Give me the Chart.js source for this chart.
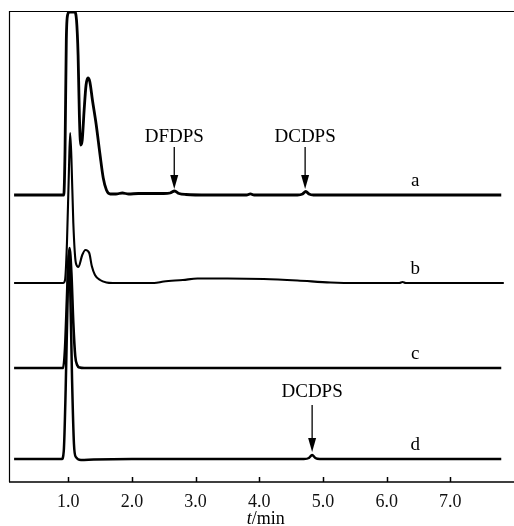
<!DOCTYPE html>
<html>
<head>
<meta charset="utf-8">
<script src="https://cdn.jsdelivr.net/npm/chart.js@4.4.1/dist/chart.umd.min.js"></script>
<style>
  html, body { margin: 0; padding: 0; background: #fff; }
  #wrap { width: 514px; height: 526px; }
</style>
</head>
<body>
<div id="wrap"><canvas id="chromChart" width="514" height="526"></canvas></div>
<script>
// retention time (min) / signal above each trace's own baseline
const timeA = [0.15, 0.93, 0.95, 0.97, 0.99, 1.02, 1.10, 1.13, 1.155, 1.175, 1.195, 1.22, 1.25, 1.28, 1.31, 1.34, 1.38, 1.44, 1.50, 1.55, 1.60, 1.66, 1.75, 1.85, 1.95, 2.1, 2.3, 2.5, 2.6, 2.67, 2.74, 2.85, 3.2, 3.8, 3.86, 3.92, 4.6, 4.68, 4.73, 4.78, 4.85, 7.8];
const signalA = [0, 0, 45, 155, 180, 183, 183, 175, 140, 80, 50, 55, 85, 110, 117, 113, 95, 70, 40, 17, 5, 1, 1, 2, 1, 1.5, 1.5, 1.5, 2, 4, 1.5, 0.5, 0, 0, 1.2, 0, 0, 1, 3.5, 1, 0, 0];

const timeB = [0.15, 0.92, 0.95, 0.98, 1.01, 1.03, 1.05, 1.08, 1.12, 1.16, 1.22, 1.27, 1.33, 1.37, 1.42, 1.5, 1.6, 1.7, 2.35, 2.5, 2.8, 3.03, 3.5, 4.07, 4.6, 5.12, 5.56, 6.2, 6.25, 6.3, 7.84];
const signalB = [0, 0, 3, 40, 110, 150, 125, 60, 20, 16, 28, 33, 30, 17, 8, 3, 0.5, 0, 0, 1.5, 3, 4.5, 4.5, 4, 2.5, 0.5, 0, 0, 1, 0, 0];

const timeC = [0.15, 0.92, 0.95, 0.98, 1.0, 1.02, 1.05, 1.08, 1.11, 1.14, 1.18, 1.25, 7.8];
const signalC = [0, 0, 20, 70, 105, 120, 95, 45, 12, 3, 0.5, 0, 0];

const timeD = [0.15, 0.9, 0.93, 0.96, 0.99, 1.01, 1.03, 1.06, 1.09, 1.12, 1.2, 1.4, 2.0, 4.7, 4.78, 4.83, 4.88, 4.95, 7.8];
const signalD = [0, 0, 8, 70, 160, 205, 175, 80, 15, 2, -1, -0.5, 0, 0, 1, 4, 1, 0, 0];

// vertical offsets of the stacked traces
const traceNames = ["a", "b", "c", "d"];
const traceOffsets = [287, 199, 114, 23];

const xTicks = [1, 2, 3, 4, 5, 6, 7];

// peak annotations
const peakNames = ["DFDPS", "DCDPS", "DCDPS"];
const peakTimes = [2.665, 4.72, 4.83];
const peakTextY = [340, 340, 85];
const peakArrowTop = [335, 335, 77];
const peakArrowTip = [293, 293, 30];

const traceLabelTime = 6.45;
const serif = "'Liberation Serif', 'Times New Roman', serif";

function pts(times, sig, off) {
  return times.map((t, i) => ({ x: t, y: sig[i] + off }));
}

const series = [[timeA, signalA], [timeB, signalB], [timeC, signalC], [timeD, signalD]];
const widths = [2.8, 2.1, 2.6, 2.5];

const datasets = series.map((s, i) => ({
  label: traceNames[i],
  data: pts(s[0], s[1], traceOffsets[i]),
  borderColor: "#000",
  borderWidth: widths[i],
  pointRadius: 0,
  fill: false,
  cubicInterpolationMode: "monotone"
}));

const decor = {
  id: "decor",
  beforeDatasetsDraw(chart) {
    const { ctx, chartArea: ca, scales: { x } } = chart;
    ctx.save();
    ctx.strokeStyle = "#000";
    ctx.lineWidth = 1.2;
    ctx.beginPath();
    ctx.moveTo(ca.left + 0.5, ca.bottom);
    ctx.lineTo(ca.left + 0.5, ca.top + 0.5);
    ctx.lineTo(ca.right, ca.top + 0.5);
    ctx.stroke();
    ctx.lineWidth = 1.5;
    ctx.beginPath();
    ctx.moveTo(ca.left, ca.bottom);
    ctx.lineTo(ca.right, ca.bottom);
    xTicks.forEach(v => {
      const px = Math.round(x.getPixelForValue(v)) + 0.5;
      ctx.moveTo(px, ca.bottom);
      ctx.lineTo(px, ca.bottom - 5);
    });
    ctx.stroke();
    ctx.restore();
  },
  afterDatasetsDraw(chart) {
    const { ctx, scales: { x, y } } = chart;
    ctx.save();
    ctx.fillStyle = "#000";
    ctx.strokeStyle = "#000";
    ctx.font = "19px " + serif;
    ctx.textAlign = "center";
    ctx.textBaseline = "alphabetic";

    traceNames.forEach((n, i) => {
      ctx.fillText(n, x.getPixelForValue(traceLabelTime), y.getPixelForValue(traceOffsets[i] + 9));
    });

    peakNames.forEach((n, i) => {
      const px = x.getPixelForValue(peakTimes[i]);
      ctx.fillText(n, px, y.getPixelForValue(peakTextY[i]));
      const top = y.getPixelForValue(peakArrowTop[i]);
      const tip = y.getPixelForValue(peakArrowTip[i]);
      ctx.lineWidth = 1.3;
      ctx.beginPath();
      ctx.moveTo(px, top);
      ctx.lineTo(px, tip - 10);
      ctx.stroke();
      ctx.beginPath();
      ctx.moveTo(px - 4, tip - 14);
      ctx.lineTo(px + 4, tip - 14);
      ctx.lineTo(px, tip);
      ctx.closePath();
      ctx.fill();
    });

    // axis title: italic t + /min
    ctx.font = "italic 18px " + serif;
    const w1 = ctx.measureText("t").width;
    ctx.font = "18px " + serif;
    const w2 = ctx.measureText("/min").width;
    const cx = x.getPixelForValue(4.1);
    const left = cx - (w1 + w2) / 2;
    ctx.textAlign = "left";
    ctx.textBaseline = "middle";
    ctx.font = "italic 18px " + serif;
    ctx.fillText("t", left, 519);
    ctx.font = "18px " + serif;
    ctx.fillText("/min", left + w1, 519);
    ctx.restore();
  }
};

new Chart(document.getElementById("chromChart").getContext("2d"), {
  type: "line",
  data: { datasets: datasets },
  options: {
    responsive: false,
    animation: false,
    events: [],
    layout: { padding: { left: 9, top: 11, right: 0, bottom: 0 } },
    plugins: { legend: { display: false }, tooltip: { enabled: false } },
    scales: {
      x: {
        type: "linear",
        min: 0.07,
        max: 8.0,
        grid: { display: false, drawTicks: false, tickLength: 0 },
        border: { display: false },
        afterBuildTicks: s => { s.ticks = xTicks.map(v => ({ value: v })); },
        afterFit: s => { s.height = 44; },
        ticks: {
          autoSkip: false,
          maxRotation: 0,
          padding: 9,
          color: "#111",
          font: { family: serif, size: 18 },
          callback: v => Number(v).toFixed(1)
        }
      },
      y: { display: false, min: 0, max: 471 }
    }
  },
  plugins: [decor]
});
</script>
</body>
</html>
